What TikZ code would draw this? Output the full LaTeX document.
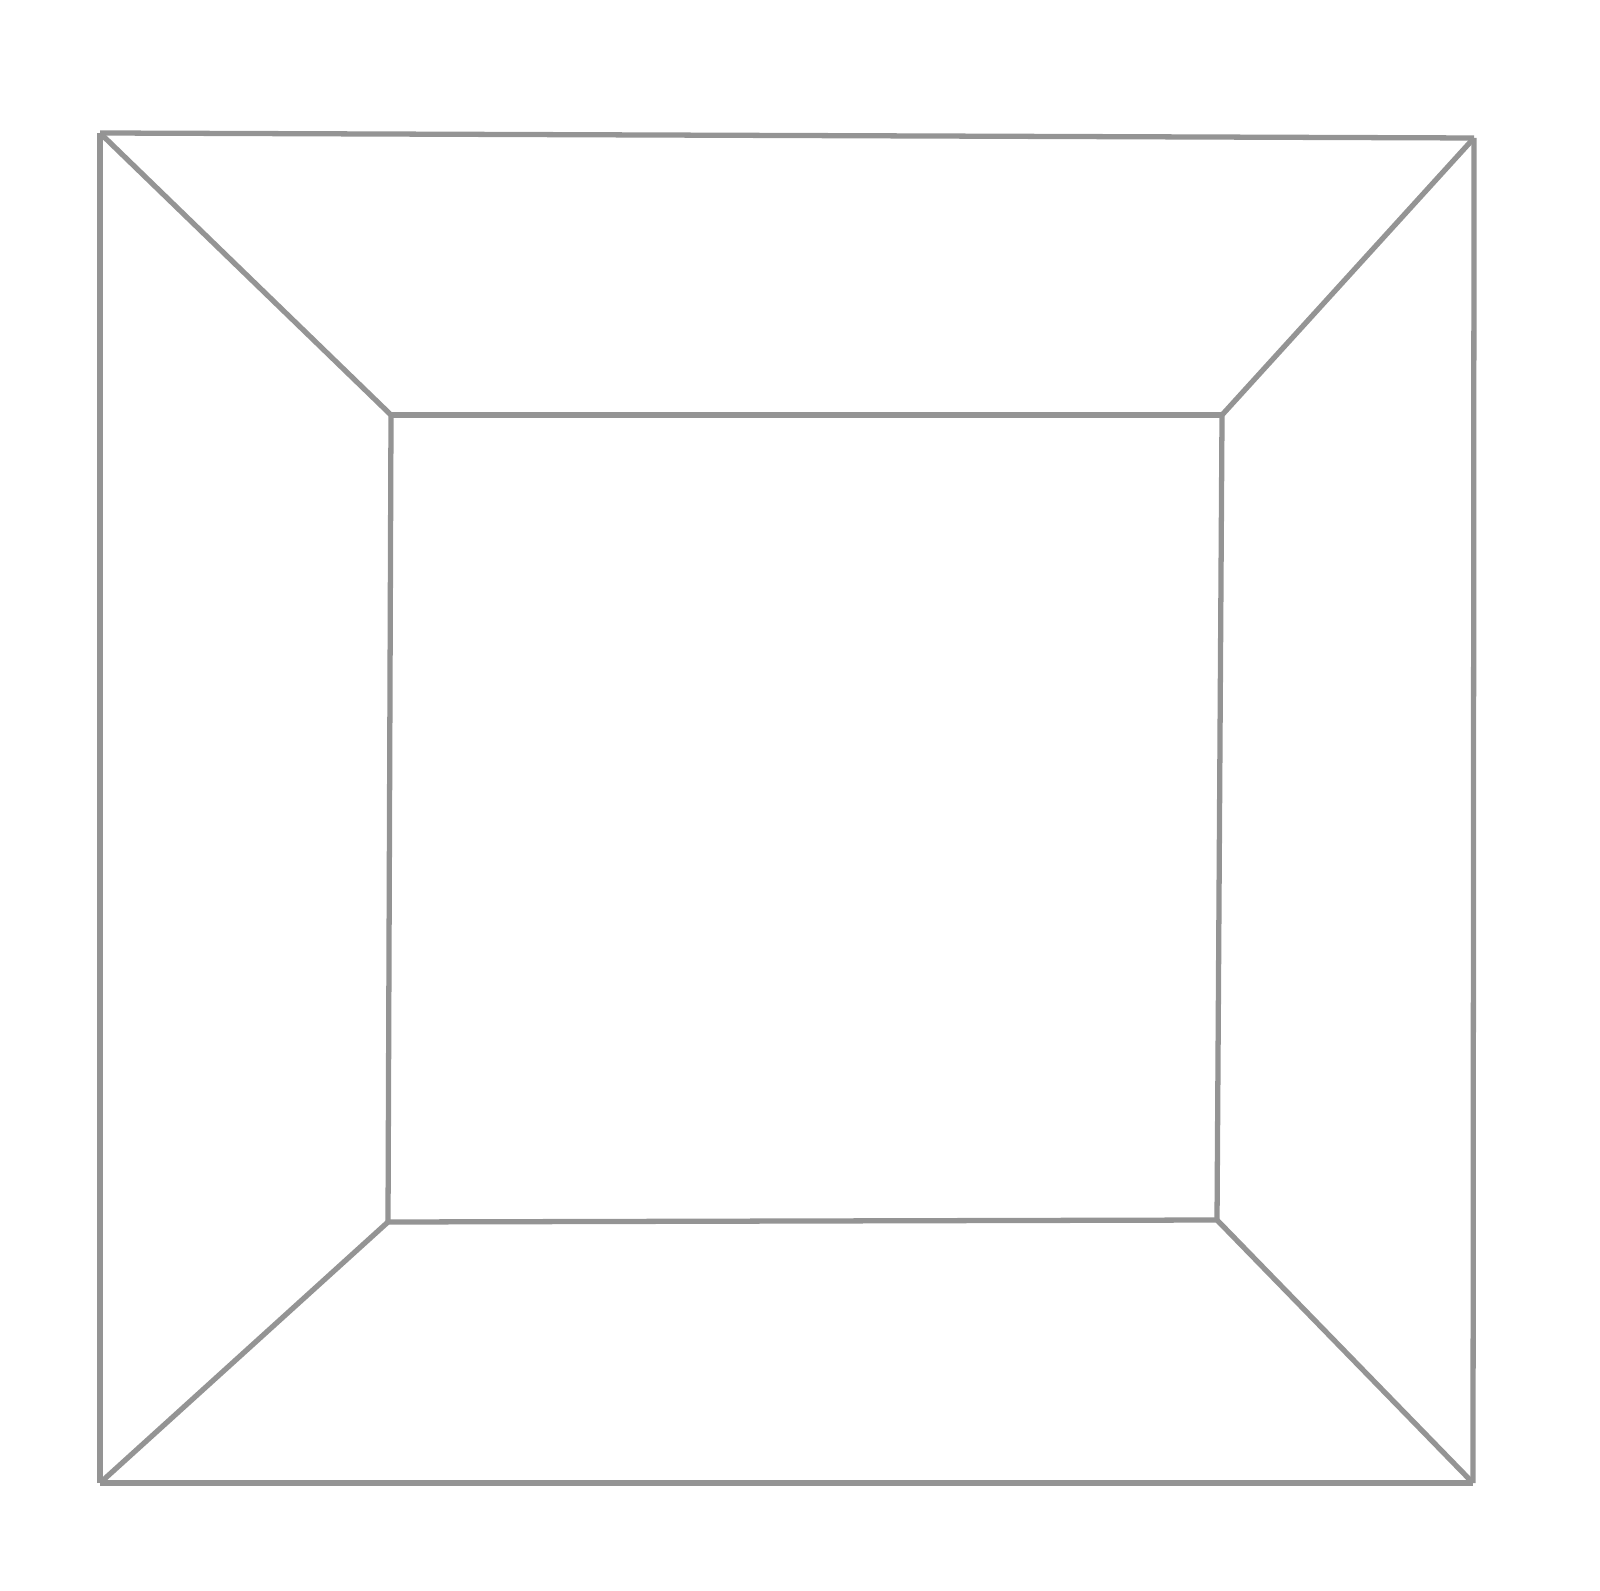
\documentclass[tikz,border=0pt]{standalone}
\begin{document}
\begin{tikzpicture}[line width=1.5pt]
      \useasboundingbox (0,0) rectangle (16,15.9);
      \path
        (1.00,14.57) coordinate (0)
        (14.74,14.52) coordinate (1)
        (14.73,1.07) coordinate (2)
        (1.00,1.07) coordinate (3)
        (3.91,11.75) coordinate (4)
        (12.22,11.75) coordinate (5)
        (12.17,3.70) coordinate (6)
        (3.88,3.68) coordinate (7);
      \begin{scope}[-, draw=black!42]
        \draw (0) to (1);
        \draw (1) to (2);
        \draw (2) to (3);
        \draw (3) to (0);
        \draw (4) to (5);
        \draw (5) to (6);
        \draw (6) to (7);
        \draw (7) to (4);
        \draw (0) to (4);
        \draw (1) to (5);
        \draw (2) to (6);
        \draw (3) to (7);
      \end{scope}
    \end{tikzpicture}
\end{document}
